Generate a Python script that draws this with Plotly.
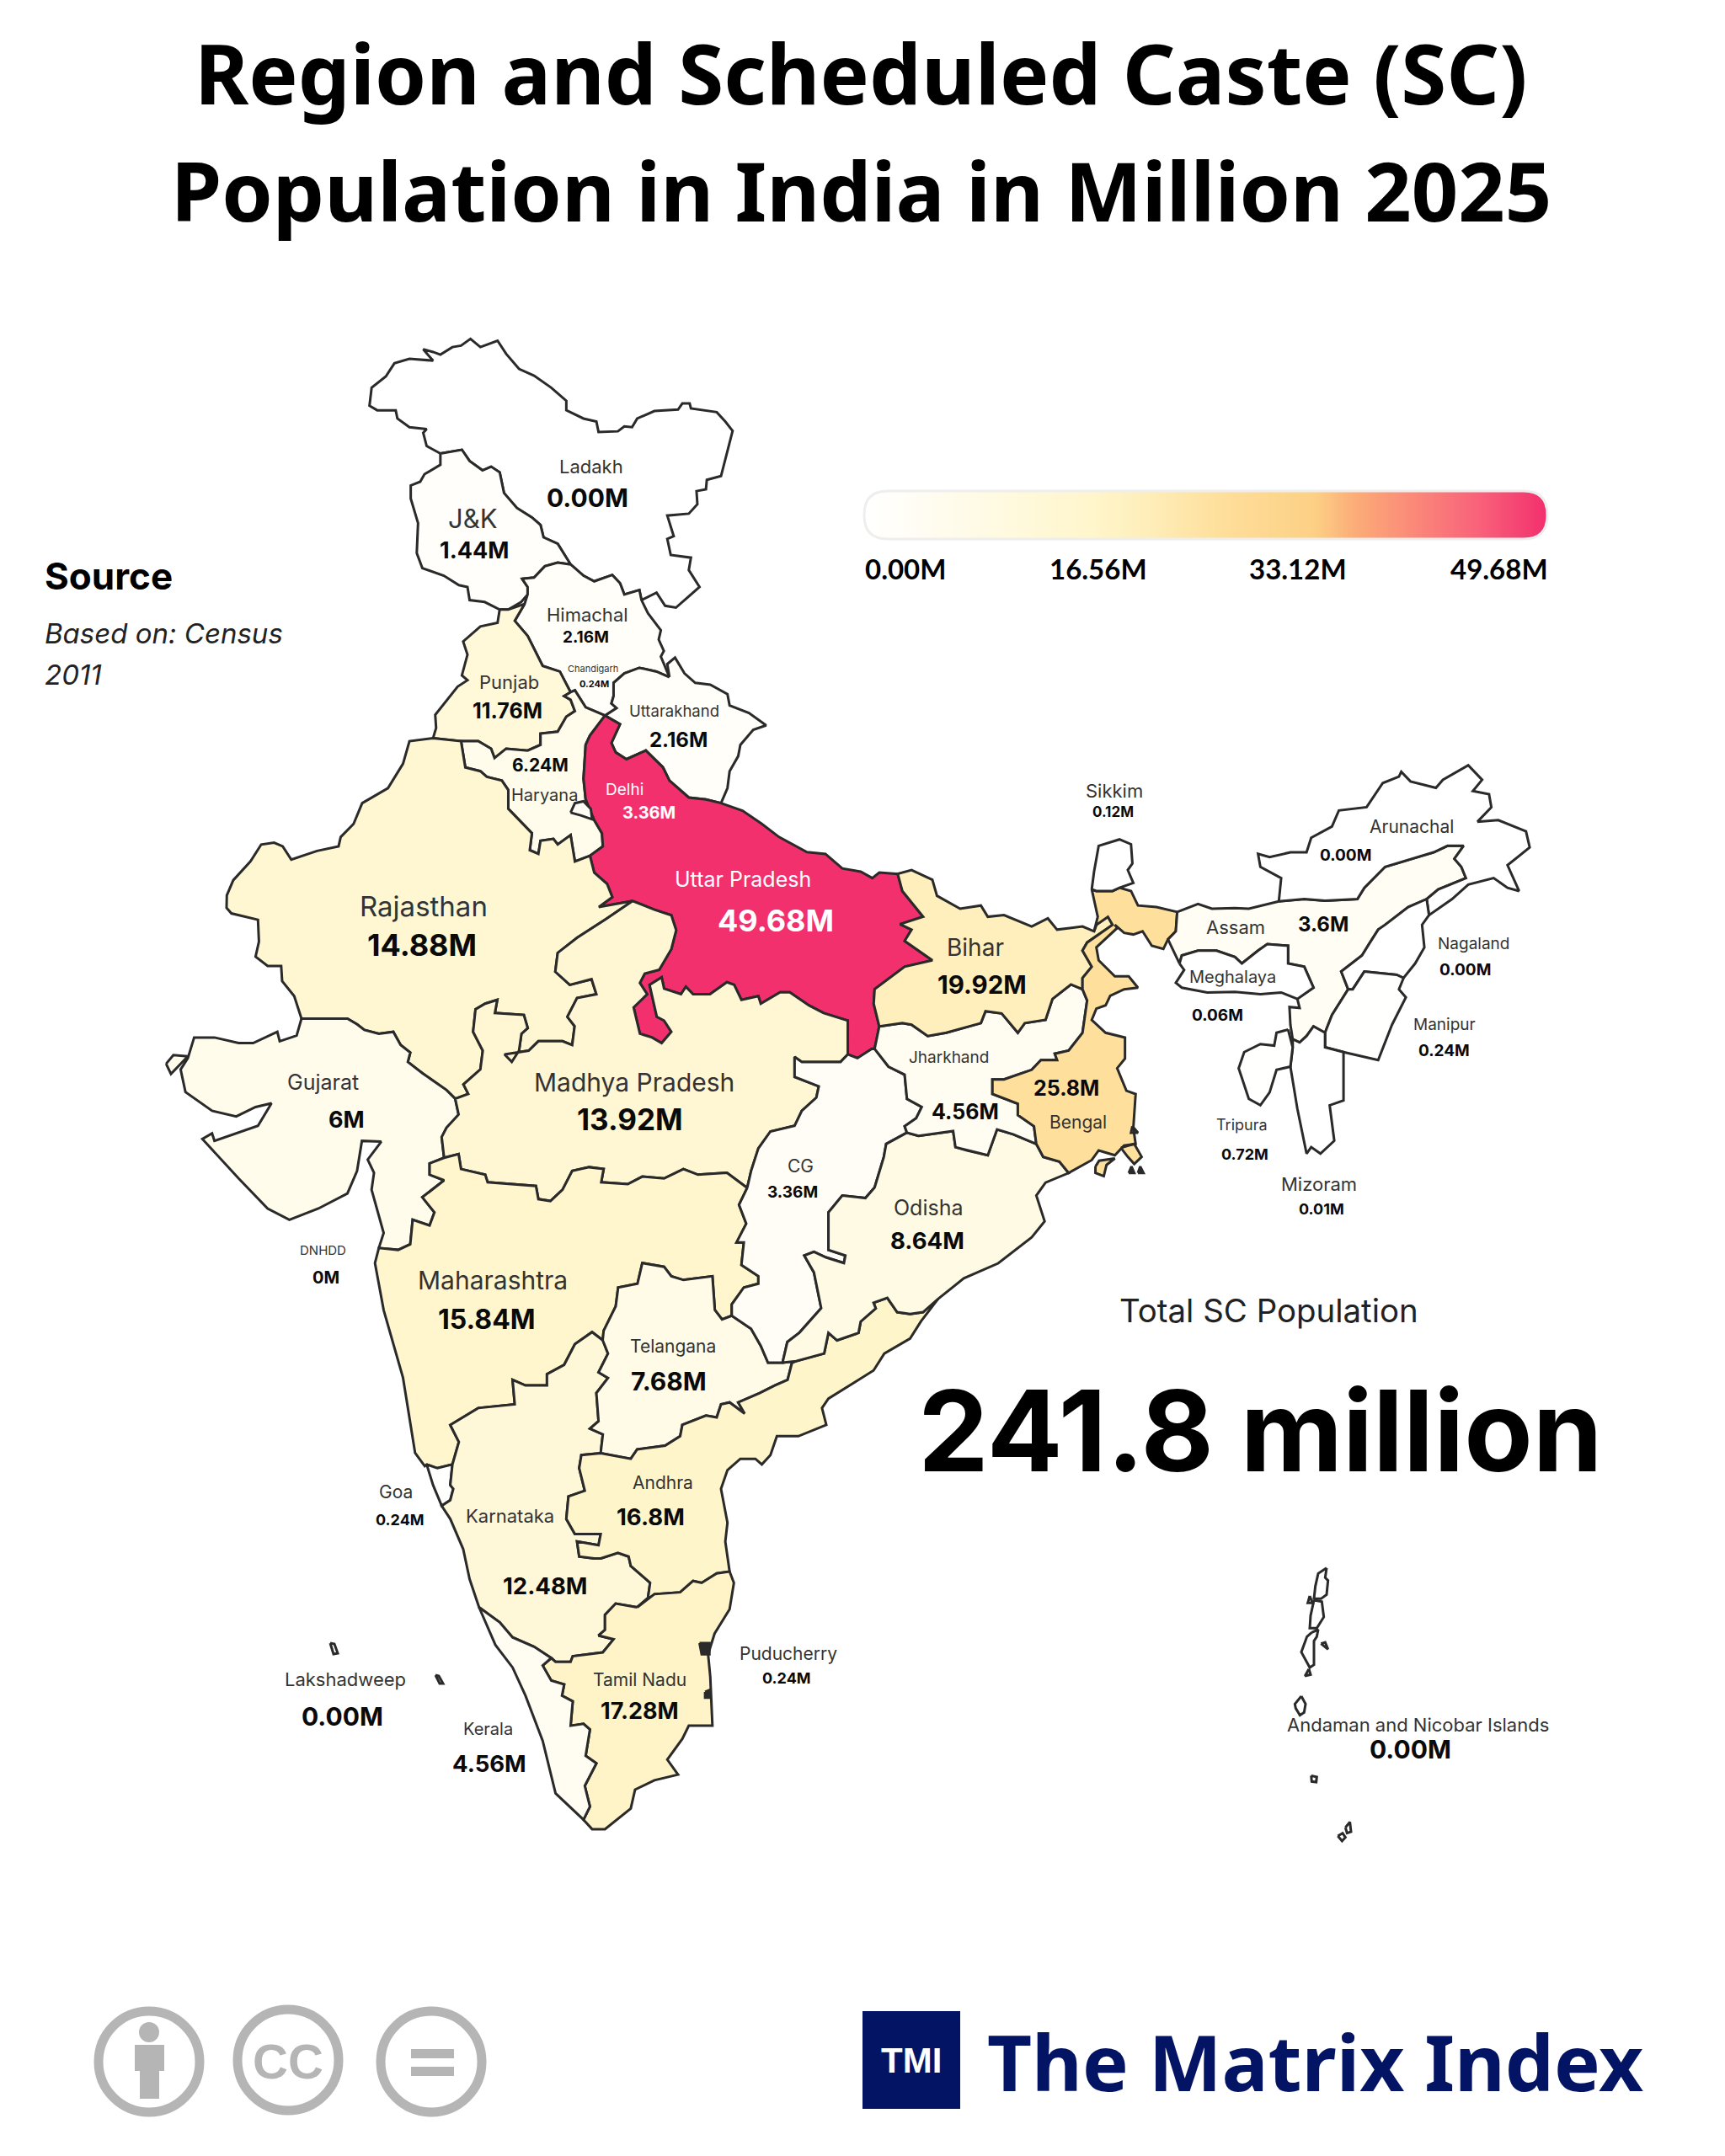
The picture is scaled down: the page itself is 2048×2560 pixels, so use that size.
import numpy as np
import plotly.graph_objects as go
from plotly.colors import sample_colorscale

# chart data
regions = ["Ladakh", "J&K", "Himachal", "Punjab", "Haryana", "Uttarakhand", "Uttar Pradesh", "Rajasthan",
           "Gujarat", "Madhya Pradesh", "Maharashtra", "Goa", "Karnataka", "Telangana", "Andhra", "Tamil Nadu",
           "Kerala", "CG", "Odisha", "Jharkhand", "Bihar", "Bengal", "Sikkim", "Assam", "Arunachal",
           "Meghalaya", "Nagaland", "Manipur", "Mizoram", "Tripura", "Delhi", "Lakshadweep",
           "Andaman and Nicobar Islands"]
values = [0.00, 1.44, 2.16, 11.76, 6.24, 2.16, 49.68, 14.88,
          6, 13.92, 15.84, 0.24, 12.48, 7.68, 16.8, 17.28,
          4.56, 3.36, 8.64, 4.56, 19.92, 25.8, 0.12, 3.6, 0.00,
          0.06, 0.00, 0.24, 0.01, 0.72, 3.36, 0.00,
          0.00]
scale_max = 49.68
scale_ticks = ["0.00M", "16.56M", "33.12M", "49.68M"]
total_label = "241.8 million"

# name, value text for the labels on the map
label_names = ["Ladakh", "J&K", "Himachal", "Chandigarh", "Punjab", "Uttarakhand", "Haryana", "Delhi", "Uttar Pradesh",
               "Rajasthan", "Bihar", "Sikkim", "Arunachal", "Assam", "Nagaland", "Meghalaya", "Manipur", "Tripura",
               "Mizoram", "Jharkhand", "Bengal", "Gujarat", "Madhya Pradesh", "CG", "Odisha", "DNHDD", "Maharashtra",
               "Telangana", "Andhra", "Goa", "Karnataka", "Puducherry", "Lakshadweep", "Tamil Nadu", "Kerala",
               "Andaman and Nicobar Islands"]
label_values = ["0.00M", "1.44M", "2.16M", "0.24M", "11.76M", "2.16M", "6.24M", "3.36M", "49.68M",
                "14.88M", "19.92M", "0.12M", "0.00M", "3.6M", "0.00M", "0.06M", "0.24M", "0.72M",
                "0.01M", "4.56M", "25.8M", "6M", "13.92M", "3.36M", "8.64M", "0M", "15.84M",
                "7.68M", "16.8M", "0.24M", "12.48M", "0.24M", "0.00M", "17.28M", "4.56M",
                "0.00M"]

# label placement, read at 1254 px wide: name x, y, size, value x, y, size
label_places = [(430, 339, 22, 427, 362, 30), (344, 377, 31, 345, 400, 27), (427, 447, 22, 426, 463, 19),
                (431, 486, 11, 432, 497, 11), (370, 496, 22, 369, 517, 25), (490, 517, 18.5, 493, 538, 24),
                (396, 578, 20, 393, 556, 21), (454, 574, 19, 472, 591, 20), (540, 639, 25, 564, 669, 36),
                (308, 659, 33, 307, 687, 36), (709, 689, 28, 714, 716, 29.5), (810, 575, 22, 809, 590, 17),
                (1026, 601, 21, 978, 622, 19), (898, 674, 22, 962, 672, 24), (1071, 686, 19, 1065, 705, 19),
                (896, 710, 20, 885, 738, 19), (1050, 745, 19, 1050, 764, 19), (903, 818, 18, 905, 839, 18),
                (959, 861, 22, 961, 879, 18), (690, 769, 19, 702, 808, 25), (784, 816, 21, 775, 791, 25),
                (235, 787, 25, 252, 814, 27), (461, 787, 30, 458, 814, 35), (582, 848, 21, 576, 867, 19),
                (675, 878, 25, 674, 902, 27.5), (235, 909, 15, 237, 929, 20), (358, 931, 30, 354, 959, 32),
                (489, 979, 21, 486, 1004, 30), (482, 1078, 21, 473, 1103, 27.5), (288, 1085, 21, 291, 1105, 18),
                (371, 1102, 22, 396, 1153, 27.5), (573, 1202, 21, 572, 1220, 18), (251, 1221, 22, 249, 1248, 30),
                (465, 1221, 21, 465, 1244, 27), (355, 1257, 20, 356, 1282, 27.5), (1031, 1254, 22, 1025, 1272, 30)]

# boundaries were traced from enlarged views, each view has its own origin and scale
NORTH = (180, 380, 800 / 1568, 700 / 1568)
CENTRE = (180, 1060, 900 / 1568, 700 / 1568)
EAST = (1000, 880, 860 / 1568, 600 / 1568)
SOUTH = (430, 1500, 800 / 1568, 700 / 1568)
ISLES = (1480, 1840, 1 / 3, 1 / 3)


def view(v, pts):
    return [(v[0] + x * v[2], v[1] + y * v[3]) for x, y in pts]


def rev(seg):
    return seg[::-1]


ladakh_n = view(NORTH, [(672, 355), (640, 335), (632, 300), (640, 290), (600, 285), (572, 262), (568, 240), (525, 240), (507, 228), (512, 180), (545, 150), (565, 115), (600, 103), (655, 108), (632, 78), (655, 85), (672, 92), (700, 72), (720, 68), (742, 50), (765, 72), (805, 55), (825, 90), (855, 130), (890, 148), (930, 180), (965, 215), (965, 240), (1005, 262), (1035, 270), (1040, 298), (1085, 296), (1100, 283), (1118, 285), (1130, 262), (1170, 242), (1225, 238), (1235, 222), (1252, 222), (1255, 235), (1315, 245), (1335, 270), (1352, 295), (1340, 350), (1325, 415), (1292, 425), (1290, 450), (1268, 455), (1270, 490), (1250, 515), (1200, 520), (1215, 575), (1200, 582), (1208, 625), (1255, 632), (1250, 665), (1275, 710), (1245, 740), (1220, 765), (1195, 760), (1175, 725), (1140, 745)])
jk_ladakh = view(NORTH, [(672, 355), (722, 345), (740, 375), (770, 400), (790, 390), (810, 405), (820, 460), (850, 500), (885, 525), (905, 545), (912, 578), (945, 595), (975, 650)])
ladakh_hp = view(NORTH, [(975, 650), (1005, 680), (1030, 695), (1072, 678), (1090, 700), (1100, 730), (1135, 718), (1140, 745)])
jk_w = view(NORTH, [(672, 355), (672, 385), (635, 410), (625, 430), (603, 440), (603, 475), (620, 540), (617, 620), (630, 660), (680, 680), (715, 705), (735, 710), (740, 745), (775, 750), (810, 770)])
jk_s = view(NORTH, [(810, 770), (830, 770), (860, 750), (875, 730), (875, 710), (862, 688)])
jk_hp = view(NORTH, [(862, 688), (890, 685), (915, 655), (945, 645), (975, 650)])
pb_w = view(NORTH, [(810, 770), (805, 805), (765, 815), (725, 855), (735, 890), (722, 945), (735, 958), (712, 975), (660, 1050), (662, 1085), (655, 1112)])
pb_raj = view(NORTH, [(655, 1112), (720, 1120)])
pb_hr = view(NORTH, [(720, 1120), (760, 1120), (790, 1140), (798, 1165), (825, 1140), (875, 1145), (905, 1130), (905, 1100), (945, 1095), (965, 1055), (985, 1040), (975, 1010), (960, 1000), (975, 990)])
pb_hp = view(NORTH, [(975, 990), (950, 935), (910, 920), (875, 840), (845, 800), (868, 755)])
pb_jk = view(NORTH, [(868, 755), (830, 770), (810, 770)])
hp_jk = view(NORTH, [(868, 755), (875, 730), (875, 710), (862, 688)])
hp_e = view(NORTH, [(1140, 745), (1155, 780), (1185, 825), (1180, 850), (1192, 880), (1185, 895), (1205, 950)])
hp_uk = view(NORTH, [(1205, 950), (1175, 935), (1135, 925), (1100, 940), (1075, 965), (1075, 1000), (1070, 1020), (1082, 1032), (1055, 1052)])
hp_hr = view(NORTH, [(1055, 1052), (1010, 1030), (985, 985), (975, 990)])
hr_raj = view(NORTH, [(720, 1120), (730, 1190), (765, 1200), (780, 1215), (815, 1225), (830, 1250), (830, 1300), (885, 1365), (880, 1410), (900, 1420), (905, 1385), (935, 1380), (945, 1395), (975, 1370), (985, 1440), (1020, 1425)])
hr_up = view(NORTH, [(1020, 1425), (1050, 1400), (1048, 1365), (1030, 1330), (1010, 1275), (1005, 1220), (1010, 1130), (1020, 1105), (1055, 1052)])
uk_n = view(NORTH, [(1205, 950), (1200, 915), (1218, 898), (1240, 940), (1265, 965), (1300, 970), (1340, 995), (1345, 1025), (1390, 1045), (1430, 1078), (1400, 1090), (1370, 1130), (1365, 1160), (1345, 1200), (1340, 1245), (1325, 1285)])
uk_up = view(NORTH, [(1325, 1285), (1290, 1275), (1250, 1270), (1205, 1225), (1190, 1190), (1150, 1145), (1105, 1168), (1080, 1150), (1070, 1125), (1090, 1075), (1055, 1052)])
up_n = view(NORTH, [(1325, 1285), (1375, 1305), (1420, 1340), (1460, 1375), (1525, 1415), (1568, 1420)]) + view(EAST, [(0, 395), (40, 405), (65, 425), (80, 408), (120, 412)])
up_br = view(EAST, [(120, 412), (130, 465), (175, 545), (125, 568), (150, 585), (135, 620), (195, 680), (135, 700), (70, 770), (68, 815), (80, 885)])
up_jh = view(EAST, [(80, 885), (70, 955)])
up_cg = view(CENTRE, [(1490, 415), (1460, 440), (1440, 430)])
up_mp = view(CENTRE, [(1440, 430), (1440, 340), (1390, 320), (1360, 300), (1320, 265), (1300, 265), (1260, 295), (1255, 275), (1220, 285), (1205, 245), (1190, 238), (1155, 270), (1120, 270), (1105, 250), (1095, 270), (1060, 255), (1055, 225), (1030, 245), (1045, 330), (1060, 340), (1075, 370), (1055, 400), (1035, 385), (1010, 375), (997, 305), (1025, 270), (1010, 240), (1020, 215), (1050, 205), (1075, 150), (1085, 100), (1075, 60), (1040, 45), (995, 22)])
up_raj = view(CENTRE, [(995, 22), (925, 38)]) + view(NORTH, [(1072, 1535), (1060, 1500), (1030, 1470), (1020, 1425)])
mp_cg = view(CENTRE, [(1440, 430), (1425, 450), (1345, 450), (1330, 437), (1330, 490), (1380, 515), (1375, 545), (1345, 580), (1330, 620), (1280, 635), (1255, 680), (1240, 740), (1232, 785)])
mp_mh = view(CENTRE, [(1232, 785), (1190, 745), (1130, 750), (1100, 735), (1060, 760), (1015, 755), (985, 775), (930, 770), (935, 735), (905, 730), (870, 740), (850, 790), (825, 820), (800, 815), (795, 780), (695, 770), (690, 750), (640, 735), (635, 695), (605, 705)])
mp_gj = view(CENTRE, [(605, 705), (600, 650), (610, 625), (635, 590), (628, 548)])
mp_raj = view(CENTRE, [(628, 548), (655, 535), (645, 510), (680, 470), (685, 420), (665, 370), (670, 310), (690, 295), (715, 285), (710, 320), (770, 325), (778, 360), (765, 375), (760, 420), (745, 450), (730, 430), (780, 420), (800, 395), (850, 395), (870, 405), (875, 355), (860, 330), (880, 280), (920, 270), (910, 230), (865, 245), (835, 210), (840, 160), (880, 120), (940, 70), (995, 22)])
raj_w = view(NORTH, [(655, 1112), (600, 1120), (585, 1180), (550, 1245), (490, 1285), (470, 1340), (440, 1375), (435, 1400), (385, 1412), (325, 1435), (305, 1400), (285, 1390), (255, 1395), (230, 1440), (190, 1490), (175, 1530)]) + view(CENTRE, [(155, 40), (165, 55), (220, 72), (222, 130), (215, 170), (240, 195), (268, 195), (270, 235), (295, 275), (310, 335)])
raj_gj = view(CENTRE, [(310, 335), (345, 335), (405, 335), (425, 350), (440, 365), (470, 375), (500, 370), (515, 405), (535, 425), (530, 450), (560, 480), (610, 525), (628, 548)])
gj_coast = view(CENTRE, [(310, 335), (300, 380), (265, 395), (260, 370), (210, 400), (180, 400), (130, 385), (88, 385), (75, 440), (60, 470), (70, 530), (125, 580), (175, 595), (215, 570), (248, 560), (220, 620), (175, 640), (130, 660), (125, 640), (105, 655), (180, 760), (240, 840), (285, 870), (345, 840), (405, 800), (425, 740), (435, 660), (475, 662), (447, 710), (460, 745), (455, 790), (470, 860), (480, 905)])
gj_mh = view(CENTRE, [(480, 905), (470, 945), (510, 950), (535, 935), (540, 870), (575, 885), (585, 850), (560, 810), (605, 765), (575, 750), (575, 720), (605, 705)])
kutch = view(CENTRE, [(30, 455), (45, 432), (75, 435), (40, 482)])
mh_cg = view(CENTRE, [(1232, 785), (1215, 830), (1230, 880), (1210, 930), (1225, 930), (1220, 990), (1255, 1020), (1255, 1040), (1225, 1050), (1200, 1095), (1200, 1125)])
mh_ts = view(CENTRE, [(1200, 1125), (1180, 1135), (1165, 1110), (1160, 1020), (1100, 1030), (1075, 1020), (1060, 995), (1015, 985), (1005, 1040), (965, 1050), (960, 1100), (935, 1165), (933, 1190)])
mh_ka = view(SOUTH, [(560, 205), (535, 183), (495, 215), (470, 270), (430, 295), (430, 325), (380, 325), (350, 310), (355, 375), (270, 385), (205, 430), (225, 475), (210, 535)])
mh_goa = view(SOUTH, [(210, 535), (175, 545), (150, 535)])
mh_coast = view(CENTRE, [(565, 1525), (545, 1490), (520, 1290), (480, 1110), (462, 985), (470, 945)])
goa_ka = view(SOUTH, [(210, 535), (205, 590), (212, 600), (205, 630), (185, 645)])
goa_coast = view(SOUTH, [(185, 645), (165, 590), (150, 535)])
ka_ts = view(SOUTH, [(560, 205), (572, 240), (550, 290), (572, 305), (545, 345), (550, 420), (530, 440), (560, 455), (555, 505)])
ka_ap = view(SOUTH, [(555, 505), (510, 510), (505, 545), (518, 605), (480, 620), (475, 680), (495, 720), (555, 720), (550, 750), (500, 740), (505, 780), (540, 785), (555, 785), (595, 770), (620, 780), (625, 805), (670, 850), (665, 890), (640, 915)])
ka_tn = view(SOUTH, [(640, 915), (590, 905), (565, 935), (565, 975), (550, 990), (585, 1000), (560, 1035), (490, 1045), (485, 1060), (450, 1060), (440, 1050)])
ka_kl = view(SOUTH, [(440, 1050), (400, 1020), (350, 995), (320, 955), (272, 915)])
ka_coast = view(SOUTH, [(272, 915), (250, 840), (235, 760), (205, 680), (185, 645)])
ts_cg = view(CENTRE, [(1200, 1125), (1240, 1160), (1260, 1205), (1275, 1250), (1305, 1250)])
ts_od = view(CENTRE, [(1305, 1250), (1333, 1246)])
ts_ap = view(SOUTH, [(1010, 260), (1000, 265), (990, 310), (960, 325), (925, 345), (875, 370), (890, 400), (855, 370), (835, 375), (825, 410), (800, 405), (745, 430), (740, 460), (705, 485), (640, 495), (625, 520), (555, 505)])
ap_od = view(SOUTH, [(1010, 260), (1075, 240), (1085, 185), (1105, 205), (1155, 185), (1160, 155), (1195, 120), (1190, 105), (1222, 92), (1245, 130), (1275, 135), (1305, 130), (1340, 95)])
ap_coast = view(SOUTH, [(1340, 95), (1300, 155), (1275, 200), (1215, 240), (1190, 285), (1135, 325), (1085, 360), (1070, 385), (1080, 430), (1015, 460), (965, 460), (950, 510), (930, 535), (915, 520), (880, 520), (850, 550), (835, 600), (850, 690), (845, 740), (855, 820)])
ap_tn = view(SOUTH, [(855, 820), (825, 825), (790, 850), (770, 845), (740, 875), (680, 880), (640, 915)])
tn_coast = view(SOUTH, [(855, 820), (865, 850), (855, 920), (820, 985), (805, 1040), (810, 1100), (815, 1230), (760, 1230), (745, 1265), (710, 1320), (735, 1360), (680, 1375), (635, 1400), (625, 1450), (565, 1505), (535, 1505), (515, 1480)])
tn_kl = view(SOUTH, [(515, 1480), (530, 1445), (518, 1390), (545, 1330), (520, 1310), (530, 1240), (515, 1225), (485, 1230), (490, 1165), (465, 1150), (470, 1120), (440, 1110), (420, 1070), (440, 1050)])
kl_coast = view(SOUTH, [(515, 1480), (450, 1410), (420, 1270), (380, 1150), (350, 1075), (310, 1015), (272, 915)])
cg_jh = view(EAST, [(70, 955), (100, 1010), (135, 1035), (140, 1110), (172, 1135), (160, 1170), (135, 1195), (140, 1215)])
cg_od = view(EAST, [(140, 1215), (95, 1250), (90, 1290), (70, 1385), (50, 1418), (0, 1410)]) + view(CENTRE, [(1400, 850), (1400, 950), (1435, 965), (1432, 985), (1395, 970), (1370, 955), (1350, 965), (1370, 1010), (1385, 1105), (1340, 1170), (1315, 1195), (1305, 1250)])
od_jh = view(EAST, [(140, 1215), (165, 1225), (240, 1210), (245, 1260), (270, 1270), (315, 1285), (335, 1205), (370, 1220), (420, 1250)])
od_bn = view(EAST, [(420, 1250), (435, 1290), (470, 1305), (490, 1340)])
od_coast = view(EAST, [(490, 1340), (440, 1370), (420, 1410), (438, 1490), (410, 1540)]) + view(SOUTH, [(1480, 0), (1400, 40), (1340, 95)])
jh_br = view(EAST, [(80, 885), (130, 875), (150, 880), (185, 915), (225, 905), (300, 875), (310, 838), (345, 845), (380, 905), (395, 875), (440, 865), (455, 800), (495, 755), (520, 770)])
jh_bn = view(EAST, [(520, 770), (530, 805), (525, 855), (520, 905), (490, 960), (460, 970), (465, 990), (430, 990), (410, 1020), (350, 1050), (325, 1050), (325, 1095), (380, 1125), (380, 1160), (415, 1195), (420, 1250)])
br_n = view(EAST, [(120, 412), (150, 400), (195, 430), (205, 480), (255, 520), (300, 510), (315, 545), (350, 540), (410, 575), (445, 550), (465, 585), (520, 575), (545, 590)])
br_bn = view(EAST, [(545, 590), (550, 570), (575, 545), (585, 570), (565, 590), (530, 625), (520, 650), (540, 700), (520, 735), (520, 770)])
bn_wn = view(EAST, [(545, 590), (553, 545), (540, 460)])
bn_sk = view(EAST, [(540, 460), (550, 465), (585, 465), (600, 455)])
bn_n2 = view(EAST, [(600, 455), (625, 465), (640, 510), (680, 515), (725, 530)])
bn_as = view(EAST, [(725, 530), (722, 590), (705, 615)])
bn_e = view(EAST, [(705, 615), (695, 645), (670, 635), (650, 590), (630, 600), (610, 595), (590, 570), (595, 580), (572, 612), (550, 640), (555, 680), (590, 730), (620, 730), (640, 765), (610, 770), (580, 790), (570, 820), (550, 830), (540, 865), (570, 905), (612, 920), (612, 985), (595, 1015), (615, 1085), (635, 1095), (630, 1200), (635, 1250), (610, 1255), (590, 1285), (555, 1270), (540, 1300), (490, 1340)])
sk_top = view(EAST, [(540, 460), (545, 405), (555, 325), (600, 305), (625, 320), (628, 380), (618, 400), (630, 440), (600, 455)])
as_n = view(EAST, [(725, 530), (770, 505), (800, 520), (850, 518), (880, 520), (945, 497)])
as_ar = view(EAST, [(945, 497), (1000, 490), (1045, 495), (1115, 490), (1130, 455), (1175, 390), (1280, 345), (1310, 325), (1345, 325), (1325, 365), (1340, 390), (1350, 425), (1290, 460), (1265, 490)])
as_nl = view(EAST, [(1265, 490), (1225, 515), (1175, 570), (1160, 585), (1140, 630), (1125, 665), (1080, 715), (1095, 770)])
as_mn = view(EAST, [(1095, 770), (1060, 850), (1045, 905)])
as_mz = view(EAST, [(1045, 905), (1020, 885), (1005, 915), (990, 935), (975, 925)])
as_tr = view(EAST, [(975, 925), (970, 880), (968, 825), (990, 828), (985, 800)])
as_ml = view(EAST, [(730, 690), (735, 665), (770, 650), (810, 650), (850, 670), (865, 690), (900, 650), (920, 630), (965, 635), (965, 690), (1000, 700), (1020, 765), (985, 800)])
ml_s = view(EAST, [(985, 800), (950, 780), (905, 785), (850, 778), (790, 780), (735, 765), (722, 750), (740, 710)])
ar_n = view(EAST, [(945, 497), (950, 425), (905, 390), (900, 350), (925, 360), (970, 345), (1005, 345), (1015, 300), (1060, 265), (1075, 215), (1135, 205), (1170, 130), (1205, 110), (1210, 95), (1230, 125), (1285, 145), (1300, 120), (1355, 75), (1385, 120), (1365, 155), (1400, 165), (1405, 205), (1375, 250), (1420, 245), (1480, 280), (1488, 330), (1440, 385), (1465, 465), (1440, 455), (1410, 425), (1355, 445), (1320, 490), (1270, 540), (1265, 490)])
nl_mn = view(EAST, [(1095, 770), (1105, 770), (1130, 715), (1200, 725), (1215, 735)])
nl_e = view(EAST, [(1215, 735), (1240, 690), (1260, 640), (1255, 570), (1270, 540), (1265, 490)])
mn_mz = view(EAST, [(1045, 905), (1045, 950), (1085, 965)])
mn_e = view(EAST, [(1085, 965), (1115, 975), (1160, 990), (1190, 880), (1220, 795), (1205, 770), (1215, 735)])
mz_s = view(EAST, [(1085, 965), (1085, 1115), (1055, 1130), (1065, 1240), (1035, 1280), (1015, 1260), (1005, 1280), (985, 1140), (970, 1010), (975, 950), (975, 925)])
tripura = view(EAST, [(965, 895), (940, 905), (935, 945), (905, 940), (870, 965), (858, 1015), (880, 1110), (905, 1130), (925, 1090), (940, 1020), (970, 1010), (975, 950)])
delhi = view(NORTH, [(975, 1310), (985, 1285), (1005, 1280), (1022, 1300), (1025, 1328), (1000, 1318)])
lakshadweep = [[(392, 1951), (397, 1952), (401, 1963), (396, 1964)], [(517, 1989), (521, 1990), (526, 1999), (522, 1999)]]
andaman = [view(ISLES, p) for p in [
    [(285, 65), (255, 85), (245, 130), (240, 175), (265, 175), (285, 160), (290, 110), (280, 100)],
    [(240, 180), (268, 185), (275, 240), (250, 280), (225, 280), (228, 235)],
    [(232, 295), (255, 285), (250, 310), (240, 325), (240, 410), (225, 420), (195, 365), (215, 310)],
    [(222, 425), (228, 445), (208, 450)], [(265, 335), (280, 330), (290, 355)], [(225, 165), (235, 190), (218, 190)],
    [(195, 522), (210, 550), (205, 580), (190, 590), (175, 565), (172, 550)],
    [(230, 805), (250, 810), (248, 828), (232, 826)], [(325, 1020), (342, 1010), (352, 1025), (340, 1038)],
    [(352, 990), (368, 970), (372, 1005), (358, 1010)]]]
# delta islands off Bengal, and the small dark specks
delta = [view(EAST, p) for p in [
    [(548, 1320), (556, 1302), (590, 1295), (572, 1315), (566, 1350), (548, 1340)],
    [(603, 1262), (632, 1250), (648, 1290), (632, 1312), (618, 1290)], [(628, 1195), (640, 1215), (625, 1215)]]]
specks = [view(EAST, p) for p in [[(620, 1340), (626, 1320), (632, 1340)], [(640, 1340), (645, 1320), (652, 1340)]]]
puducherry = [view(SOUTH, p) for p in [[(785, 1010), (808, 1010), (808, 1040), (790, 1040)], [(798, 1140), (808, 1135), (808, 1155), (798, 1155)]]]

outlines = {
    "Ladakh": [ladakh_n + rev(ladakh_hp) + rev(jk_ladakh)],
    "J&K": [jk_ladakh + rev(jk_hp) + rev(jk_s) + rev(jk_w)],
    "Himachal": [jk_hp + ladakh_hp + hp_e + hp_uk + hp_hr + pb_hp + hp_jk],
    "Punjab": [pb_w + pb_raj + pb_hr + pb_hp + pb_jk],
    "Haryana": [hp_hr + rev(pb_hr) + hr_raj + hr_up],
    "Uttarakhand": [uk_n + uk_up + rev(hp_uk)],
    "Uttar Pradesh": [rev(uk_up) + up_n + up_br + up_jh + up_cg + up_mp + up_raj + hr_up],
    "Rajasthan": [raj_w + raj_gj + mp_raj + up_raj + rev(hr_raj) + rev(pb_raj)],
    "Gujarat": [rev(raj_gj) + gj_coast[1:] + gj_mh + mp_gj, kutch],
    "Madhya Pradesh": [rev(up_mp) + mp_cg + mp_mh + mp_gj + mp_raj],
    "Maharashtra": [rev(mp_mh) + mh_cg + mh_ts + mh_ka + mh_goa + mh_coast + gj_mh[2:]],
    "Goa": [rev(mh_goa) + goa_ka + goa_coast],
    "Karnataka": [rev(mh_ka) + ka_ts + ka_ap + ka_tn + ka_kl + ka_coast + rev(goa_ka)],
    "Telangana": [rev(mh_ts) + ts_cg + ts_od + ts_ap + rev(ka_ts)],
    "Andhra": [rev(ts_ap) + ap_od + ap_coast + ap_tn + rev(ka_ap)],
    "Tamil Nadu": [rev(ap_tn) + tn_coast + tn_kl + rev(ka_tn)],
    "Kerala": [rev(ka_kl) + rev(tn_kl) + kl_coast],
    "CG": [rev(mp_cg) + rev(up_cg) + cg_jh + cg_od + rev(ts_cg) + rev(mh_cg)],
    "Odisha": [rev(cg_od) + od_jh + od_bn + od_coast + rev(ap_od) + rev(ts_od)],
    "Jharkhand": [rev(up_jh) + jh_br + jh_bn + rev(od_jh) + rev(cg_jh)],
    "Bihar": [rev(up_br) + br_n + br_bn + rev(jh_br)],
    "Bengal": [bn_wn + bn_sk + bn_n2 + bn_as + bn_e + rev(od_bn) + rev(jh_bn) + rev(br_bn), delta[0], delta[1], delta[2]],
    "Sikkim": [sk_top + rev(bn_sk)],
    "Assam": [as_n + as_ar + as_nl + as_mn + as_mz + as_tr + rev(as_ml) + rev(bn_as)],
    "Arunachal": [ar_n + rev(as_ar)],
    "Meghalaya": [as_ml + ml_s],
    "Nagaland": [as_nl + nl_mn + nl_e],
    "Manipur": [rev(nl_mn) + as_mn + mn_mz + mn_e],
    "Mizoram": [rev(as_mz) + mn_mz + mz_s],
    "Tripura": [tripura],
    "Delhi": [delhi],
    "Lakshadweep": lakshadweep,
    "Andaman and Nicobar Islands": andaman,
}

colorscale = [[0, "#FFFFFF"], [0.33, "#FFF6CC"], [0.42, "#FEEDB8"], [0.52, "#FEDF9C"], [0.66, "#FDD085"],
              [0.72, "#FCAC78"], [0.9, "#F9627A"], [1, "#F2306E"]]
BORDER = "#2A2A2A"
S = 2048 / 1254

fig = go.Figure()


def add_shape_trace(polys, fill, name, value=None):
    xs, ys = [], []
    for p in polys:
        xs += [q[0] for q in p] + [p[0][0], None]
        ys += [q[1] for q in p] + [p[0][1], None]
    fig.add_trace(go.Scatter(x=xs, y=ys, mode="lines", fill="toself", fillcolor=fill, name=name,
                             line=dict(color=BORDER, width=3), hoveron="fills",
                             text=f"{name}: {value}M", hoverinfo="text", showlegend=False))


for name, value in zip(regions, values):
    add_shape_trace(outlines[name], sample_colorscale(colorscale, value / scale_max)[0], name, value)
add_shape_trace(specks, BORDER, "Sundarbans", 25.8)
add_shape_trace(puducherry, BORDER, "Puducherry", 0.24)

# colour scale bar
fig.add_trace(go.Heatmap(z=[np.linspace(0, scale_max, 240)], colorscale=colorscale, zmin=0, zmax=scale_max,
                         showscale=False, hoverinfo="skip", xaxis="x2", yaxis="y2"))
BAR = (1026, 583, 1837, 640)
r = 28
x0, y0, x1, y1 = BAR
round_bar = (f"M{x0 + r},{y0} L{x1 - r},{y0} Q{x1},{y0} {x1},{y0 + r} L{x1},{y1 - r} Q{x1},{y1} {x1 - r},{y1} "
             f"L{x0 + r},{y1} Q{x0},{y1} {x0},{y1 - r} L{x0},{y0 + r} Q{x0},{y0} {x0 + r},{y0} Z")
mask = f"M{x0 - 4},{y0 - 4} L{x1 + 4},{y0 - 4} L{x1 + 4},{y1 + 4} L{x0 - 4},{y1 + 4} Z " + round_bar
shapes = [dict(type="path", path=mask, fillcolor="white", fillrule="evenodd", line=dict(width=0), layer="above"),
          dict(type="path", path=round_bar, line=dict(color="#EEEEEE", width=3), layer="above")]

# licence badges and logo block
GREY = "#B5B5B5"
for cx, cy in [(177, 2448), (342, 2446), (512, 2448)]:
    shapes.append(dict(type="circle", x0=cx - 60, x1=cx + 60, y0=cy - 60, y1=cy + 60, line=dict(color=GREY, width=11)))
shapes += [dict(type="circle", x0=165, x1=189, y0=2401, y1=2425, fillcolor=GREY, line=dict(width=0)),
           dict(type="rect", x0=160, x1=195, y0=2428, y1=2459, fillcolor=GREY, line=dict(width=0)),
           dict(type="rect", x0=166, x1=189, y0=2459, y1=2492, fillcolor=GREY, line=dict(width=0)),
           dict(type="rect", x0=488, x1=539, y0=2433, y1=2444, fillcolor=GREY, line=dict(width=0)),
           dict(type="rect", x0=488, x1=539, y0=2454, y1=2465, fillcolor=GREY, line=dict(width=0)),
           dict(type="rect", x0=1024, x1=1140, y0=2388, y1=2504, fillcolor="#041464", line=dict(width=0))]

annotations = []


def text(x, y, s, size, color="#000000", family="Inter", anchor="center"):
    annotations.append(dict(x=x, y=y, text=s, xref="x", yref="y", showarrow=False, xanchor=anchor, yanchor="middle",
                            font=dict(family=family, size=size, color=color)))


for name, val, place in zip(label_names, label_values, label_places):
    nx, ny, ns, vx, vy, vs = place
    on_dark = name in ("Delhi", "Uttar Pradesh")
    text(nx * S, ny * S, name, ns, "#FFFFFF" if on_dark else "#333333")
    text(vx * S, vy * S, f"<b>{val}</b>", vs, "#FFFFFF" if on_dark else "#0A0A0A")

text(1022, 86, "<b>Region and Scheduled Caste (SC)</b>", 98, family="Noto Sans")
text(1022, 225, "<b>Population in India in Million 2025</b>", 97, family="Noto Sans")
text(51, 684, "<b>Source</b>", 44, anchor="left")
text(51, 752, "<i>Based on: Census</i>", 33, "#222222", anchor="left")
text(51, 801, "<i>2011</i>", 33, "#222222", anchor="left")
text(1506, 1556, "Total SC Population", 38.4, "#222222")
text(1496, 1698, f"<b>{total_label}</b>", 133)
for tick, tx in zip(scale_ticks, [1075, 1304, 1541, 1780]):
    text(tx, 675, f"<b>{tick}</b>", 33, family="Lato")
text(342, 2447, "<b>CC</b>", 58, GREY, family="Liberation Sans")
text(1082, 2446, "<b>TMI</b>", 42, "#FFFFFF", family="Liberation Sans")
text(1170, 2447, "<b>The Matrix Index</b>", 92, "#041464", family="Noto Sans", anchor="left")

fig.update_layout(
    width=2048, height=2560, margin=dict(l=0, r=0, t=0, b=0),
    paper_bgcolor="white", plot_bgcolor="white",
    xaxis=dict(range=[0, 2048], visible=False, domain=[0, 1], fixedrange=True),
    yaxis=dict(range=[2560, 0], visible=False, domain=[0, 1], fixedrange=True),
    xaxis2=dict(visible=False, domain=[BAR[0] / 2048, BAR[2] / 2048], anchor="y2"),
    yaxis2=dict(visible=False, domain=[1 - BAR[3] / 2560, 1 - BAR[1] / 2560], anchor="x2"),
    shapes=shapes, annotations=annotations, showlegend=False,
)

# the browser's default 8px page margin would push the whole chart off register
fig.write_html("out.html", config={"displayModeBar": False}, post_script="document.body.style.margin = '0';")
